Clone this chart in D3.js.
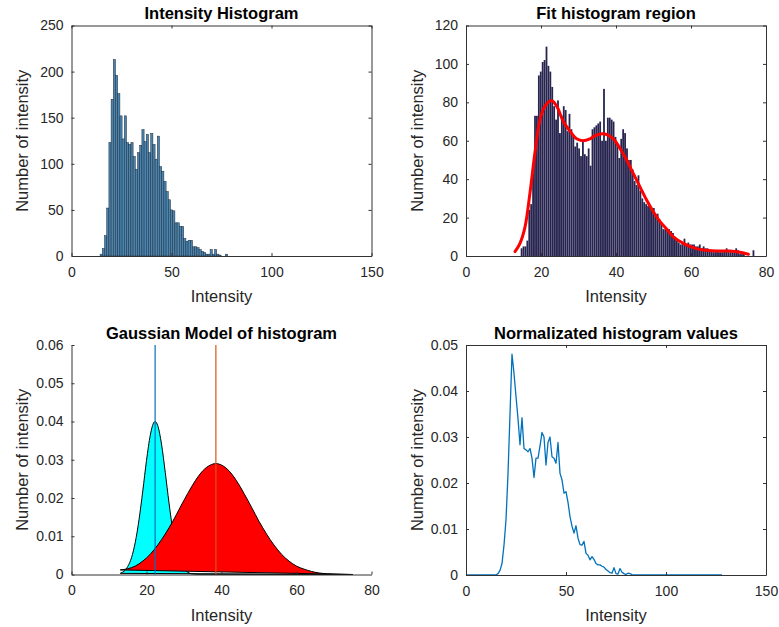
<!DOCTYPE html>
<html>
<head>
<meta charset="utf-8">
<script src="https://cdn.jsdelivr.net/npm/d3@7"></script>
<style>
  body { margin: 0; background: #ffffff; }
  svg { display: block; }
  text { font-family: "Liberation Sans", Arial, Helvetica, sans-serif; }
</style>
</head>
<body>
<svg id="chart" width="779" height="627"></svg>
<script>
// ---------------- DATA ----------------
// Panel 1: Intensity Histogram (bin counts)
const hist1Start = 14.3;
const hist1Width = 1.1;
const hist1Counts = [2, 8, 22, 52, 123, 170, 213, 196, 176, 152, 127, 152, 123, 121, 123, 108, 94, 112, 120, 137,
  124, 132, 112, 133, 121, 105, 130, 97, 92, 81, 70, 61, 50, 49, 36, 36, 32, 32, 19, 16,
  17, 17, 10, 10, 9, 7, 5, 4, 2, 2, 7, 2, 7, 2, 1, 0, 0, 2];

// Panel 2: Fit histogram region (finer bins) + fitted curve
const hist2Start = 14.585;
const hist2Width = 0.511;
const hist2Counts = [4, 5, 5, 8, 24, 27, 43, 73, 73, 94, 96, 101, 102, 109, 99, 96, 88, 78, 71, 81,
  64, 73, 78, 76, 65, 74, 66, 63, 57, 59, 56, 52, 60, 53, 52, 56, 47, 66, 67, 68,
  69, 70, 60, 87, 60, 72, 72, 71, 70, 62, 58, 51, 61, 66, 64, 56, 50, 50, 45, 39,
  37, 42, 34, 30, 28, 27, 26, 26, 24, 25, 21, 22, 19, 17, 14, 14, 14, 14, 13, 12,
  10, 8, 7, 6, 7, 9, 6, 7, 6, 6, 6, 5, 5, 6, 4, 5, 4, 4, 3, 3,
  2, 2, 3, 2, 2, 2, 3, 4, 2, 2, 2, 3, 4, 3, 1, 1, 1, 0, 0, 0, 0, 3];
const fitX = [13.07, 14.4, 15.73, 17.07, 18.4, 19.73, 21.07, 22.84, 24.18, 25.96, 27.73, 29.5, 31.3, 33.07,
  34.84, 37.07, 39.3, 41.07, 42.84, 44.6, 46.4, 48.2, 49.96, 51.7, 53.5, 55.3, 57.96, 60.6, 63.3, 66.8, 70.4, 73.07, 75.3];
const fitY = [2.3, 6.6, 15, 33, 54, 71, 78, 81, 78, 70, 65, 61, 60, 61,
  63, 63.5, 61, 56, 50, 43, 36, 29, 23, 18, 14, 10, 6.6, 4.4, 3.1, 2.6, 2.6, 1.9, 0.9];

// Panel 3: Gaussian model components
const comp1X = [13, 15, 16, 17, 18, 19, 20, 21, 22, 22.3, 23, 24, 25, 26, 27, 28, 29, 30, 31, 32, 34, 75];
const comp1Y = [0.0003, 0.0021, 0.0044, 0.0084, 0.0143, 0.0218, 0.0298, 0.0364, 0.0398, 0.0400, 0.0389, 0.0341,
  0.0267, 0.0187, 0.0117, 0.0066, 0.0033, 0.0015, 0.0006, 0.0002, 0.00005, 0];
const comp2X = [13, 15, 17, 19, 21, 23, 25, 27, 29, 31, 33, 35, 37, 38.5, 40, 42, 44, 46, 48, 50, 52, 54, 56, 58,
  60, 62, 64, 66, 68, 70, 75];
const comp2Y = [0.0012, 0.0015, 0.0022, 0.0035, 0.0053, 0.0077, 0.0106, 0.0139, 0.0176, 0.0212, 0.0245, 0.0271,
  0.0286, 0.0290, 0.0286, 0.0271, 0.0245, 0.0212, 0.0176, 0.0139, 0.0106, 0.0077, 0.0053, 0.0035,
  0.0022, 0.0014, 0.0008, 0.0004, 0.0002, 0.0001, 0];
const means = [22.3, 38.5];

// Panel 4: Normalized histogram values
const normX = [0, 15, 16, 17, 18, 19, 20, 21, 22, 23, 24, 25, 26, 27, 28, 29, 30, 31, 32, 33, 34, 35, 36, 37, 38, 39,
  40, 41, 42, 43, 44, 45, 46, 47, 48, 49, 50, 51, 52, 53, 54, 55, 56, 57, 58, 59, 60, 61, 62, 63, 64,
  65, 66, 67, 68, 69, 70, 71, 72, 73, 74, 75, 76, 77, 78, 79, 80, 81, 82, 83, 84, 128];
const normY = [0, 0, 0.0003, 0.001, 0.0025, 0.0065, 0.012, 0.022, 0.035, 0.048, 0.0438, 0.0388, 0.034, 0.0283,
  0.0342, 0.0275, 0.0272, 0.0268, 0.0275, 0.0254, 0.0212, 0.0254, 0.0254, 0.028, 0.031, 0.030,
  0.0239, 0.0288, 0.030, 0.0257, 0.0254, 0.0243, 0.0288, 0.0221, 0.0207, 0.0178, 0.0181, 0.0158,
  0.0127, 0.0106, 0.0091, 0.0107, 0.008, 0.0066, 0.0065, 0.0073, 0.0047, 0.0043, 0.0033, 0.004,
  0.0034, 0.0025, 0.0022, 0.0022, 0.0019, 0.0017, 0.0012, 0.0009, 0.0005, 0.0004, 0.0016, 0.0003,
  0.0002, 0.0014, 0.0006, 0.0003, 0.0001, 0.0004, 0.0003, 0.0001, 0, 0];

// Tick values and texts
const titles = ["Intensity Histogram", "Fit histogram region", "Gaussian Model of histogram", "Normalizated histogram values"];
const xLabel = "Intensity";
const yLabel = "Number of intensity";
const ticks1X = [0, 50, 100, 150], ticks1Y = [0, 50, 100, 150, 200, 250];
const ticks2X = [0, 20, 40, 60, 80], ticks2Y = [0, 20, 40, 60, 80, 100, 120];
const ticks3X = [0, 20, 40, 60, 80], ticks3Y = [0, 0.01, 0.02, 0.03, 0.04, 0.05, 0.06];
const ticks4X = [0, 50, 100, 150], ticks4Y = [0, 0.01, 0.02, 0.03, 0.04, 0.05];

// ---------------- LAYOUT ----------------
const svg = d3.select("#chart");
const AX = "#333333";
const boxes = [
  { l: 71.5, r: 371.5, t: 25.5, b: 256 },
  { l: 466, r: 766, t: 25.5, b: 256 },
  { l: 71.5, r: 371.5, t: 345, b: 574.5 },
  { l: 466, r: 766, t: 345, b: 575 }
];

function fmtNum(d) {
  if (d === 0) return "0";
  return Number.isInteger(d) ? String(d) : d3.format(".2f")(d);
}

function styleAxis(sel) {
  sel.attr("font-size", 14).attr("font-family", '"Liberation Sans", Arial, sans-serif').attr("color", AX);
  sel.selectAll("text").attr("fill", "#262626");
  sel.selectAll("path.domain").attr("stroke-width", 1);
  sel.selectAll(".tick line").attr("stroke-width", 1);
}

function drawFrame(box, x, y, xt, yt, withBox, idx) {
  const g = svg.append("g");
  g.append("g").attr("transform", `translate(0,${box.b})`)
    .call(d3.axisBottom(x).tickValues(xt).tickSize(-3).tickSizeOuter(0).tickPadding(11).tickFormat(fmtNum))
    .call(styleAxis);
  g.append("g").attr("transform", `translate(${box.l},0)`)
    .call(d3.axisLeft(y).tickValues(yt).tickSize(-3).tickSizeOuter(0).tickPadding(8).tickFormat(fmtNum))
    .call(styleAxis);
  if (withBox) {
    g.append("g").attr("transform", `translate(0,${box.t})`)
      .call(d3.axisTop(x).tickValues(xt).tickSize(-3).tickSizeOuter(0).tickFormat(""))
      .call(styleAxis);
    g.append("g").attr("transform", `translate(${box.r},0)`)
      .call(d3.axisRight(y).tickValues(yt).tickSize(-3).tickSizeOuter(0).tickFormat(""))
      .call(styleAxis);
  }
  const cx = (box.l + box.r) / 2;
  svg.append("text").attr("x", cx).attr("y", box.t - 6.5).attr("text-anchor", "middle")
    .attr("font-size", 16.5).attr("font-weight", "bold").attr("fill", "#000").text(titles[idx]);
  svg.append("text").attr("x", cx).attr("y", box.b + 46).attr("text-anchor", "middle")
    .attr("font-size", 16.5).attr("fill", "#262626").text(xLabel);
  const cy = (box.t + box.b) / 2;
  svg.append("text").attr("transform", `translate(${box.l - 43.5},${cy}) rotate(-90)`)
    .attr("text-anchor", "middle").attr("font-size", 16.5).attr("fill", "#262626").text(yLabel);
}

// ---------------- PANEL 1 ----------------
{
  const b = boxes[0];
  const x = d3.scaleLinear().domain([0, 150]).range([b.l, b.r]);
  const y = d3.scaleLinear().domain([0, 250]).range([b.b, b.t]);
  const bars = hist1Counts.map((c, i) => ({ x0: hist1Start + i * hist1Width, x1: hist1Start + (i + 1) * hist1Width, c }));
  svg.append("g").selectAll("rect").data(bars).join("rect")
    .attr("x", d => x(d.x0)).attr("width", d => x(d.x1) - x(d.x0))
    .attr("y", d => y(d.c)).attr("height", d => y(0) - y(d.c))
    .attr("fill", "#4a84b0").attr("stroke", "#1c2a38").attr("stroke-width", 0.5);
  drawFrame(b, x, y, ticks1X, ticks1Y, true, 0);
}

// ---------------- PANEL 2 ----------------
{
  const b = boxes[1];
  const x = d3.scaleLinear().domain([0, 80]).range([b.l, b.r]);
  const y = d3.scaleLinear().domain([0, 120]).range([b.b, b.t]);
  const bars = hist2Counts.map((c, i) => ({ x0: hist2Start + i * hist2Width, x1: hist2Start + (i + 1) * hist2Width, c }));
  svg.append("g").selectAll("rect").data(bars).join("rect")
    .attr("x", d => x(d.x0)).attr("width", d => Math.max(0, x(d.x1) - x(d.x0) - 0.12))
    .attr("y", d => y(d.c)).attr("height", d => y(0) - y(d.c))
    .attr("fill", "#272550");
  const line = d3.line().x((d, i) => x(fitX[i])).y(d => y(d)).curve(d3.curveCatmullRom);
  svg.append("path").datum(fitY).attr("d", line)
    .attr("fill", "none").attr("stroke", "#ff0000").attr("stroke-width", 3).attr("stroke-linecap", "round");
  drawFrame(b, x, y, ticks2X, ticks2Y, true, 1);
}

// ---------------- PANEL 3 ----------------
{
  const b = boxes[2];
  const x = d3.scaleLinear().domain([0, 80]).range([b.l, b.r]);
  const y = d3.scaleLinear().domain([0, 0.06]).range([b.b, b.t]);
  const mk = (xs) => d3.line().x((d, i) => x(xs[i])).y(d => y(d)).curve(d3.curveMonotoneX);
  svg.append("path").attr("d", mk(comp1X)(comp1Y) + "Z")
    .attr("fill", "#00ffff").attr("stroke", "#000").attr("stroke-width", 1);
  svg.append("path").attr("d", mk(comp2X)(comp2Y) + "Z")
    .attr("fill", "#ff0000").attr("stroke", "#000").attr("stroke-width", 1);
  const mColors = ["#0072BD", "#D95319"];
  svg.append("g").selectAll("line").data(means).join("line")
    .attr("x1", d => x(d)).attr("x2", d => x(d))
    .attr("y1", y(0)).attr("y2", y(0.06))
    .attr("stroke", (d, i) => mColors[i]).attr("stroke-width", 1.2);
  drawFrame(b, x, y, ticks3X, ticks3Y, false, 2);
}

// ---------------- PANEL 4 ----------------
{
  const b = boxes[3];
  const x = d3.scaleLinear().domain([0, 150]).range([b.l, b.r]);
  const y = d3.scaleLinear().domain([0, 0.05]).range([b.b, b.t]);
  const line = d3.line().x((d, i) => x(normX[i])).y(d => y(d));
  svg.append("path").datum(normY).attr("d", line)
    .attr("fill", "none").attr("stroke", "#0072BD").attr("stroke-width", 1.3).attr("stroke-linejoin", "round");
  drawFrame(b, x, y, ticks4X, ticks4Y, true, 3);
}
</script>
</body>
</html>
